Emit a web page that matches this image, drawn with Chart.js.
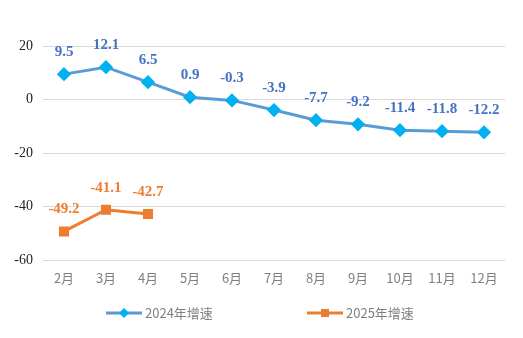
<!DOCTYPE html>
<html>
<head>
<meta charset="utf-8">
<script src="https://cdn.jsdelivr.net/npm/chart.js@4"></script>
<style>
  html, body { margin: 0; padding: 0; background: #fff; }
  #wrap { width: 523px; height: 338px; }
</style>
</head>
<body>
<div id="wrap"><canvas id="chart" width="523" height="338"></canvas></div>
<script>
const months = ['2月', '3月', '4月', '5月', '6月', '7月', '8月', '9月', '10月', '11月', '12月'];
const growth2024 = [9.5, 12.1, 6.5, 0.9, -0.3, -3.9, -7.7, -9.2, -11.4, -11.8, -12.2];
const growth2025 = [-49.2, -41.1, -42.7, null, null, null, null, null, null, null, null];
const seriesNames = ['2024年增速', '2025年增速'];

const labelColors = ['#4472C4', '#ED7D31'];

// value labels above each point
const valueLabels = {
    id: 'valueLabels',
    afterDatasetsDraw(chart) {
        const ctx = chart.ctx;
        ctx.save();
        ctx.font = 'bold 15px "Liberation Serif", serif';
        ctx.textAlign = 'center';
        ctx.textBaseline = 'middle';
        chart.data.datasets.forEach((ds, i) => {
            const meta = chart.getDatasetMeta(i);
            ctx.fillStyle = labelColors[i];
            meta.data.forEach((pt, j) => {
                const v = ds.data[j];
                if (v === null) return;
                ctx.fillText(v.toFixed(1), pt.x, pt.y - 22);
            });
        });
        ctx.restore();
    }
};

// legend with line + marker drawn under the axis
const lineLegend = {
    id: 'lineLegend',
    afterDraw(chart) {
        const ctx = chart.ctx;
        const y = 313;
        const starts = [106, 307];
        ctx.save();
        chart.data.datasets.forEach((ds, i) => {
            const x = starts[i];
            ctx.strokeStyle = ds.borderColor;
            ctx.lineWidth = 3;
            ctx.beginPath();
            ctx.moveTo(x, y);
            ctx.lineTo(x + 36, y);
            ctx.stroke();
            ctx.fillStyle = ds.pointBackgroundColor;
            if (i === 0) {
                ctx.beginPath();
                ctx.moveTo(x + 18, y - 5);
                ctx.lineTo(x + 23, y);
                ctx.lineTo(x + 18, y + 5);
                ctx.lineTo(x + 13, y);
                ctx.closePath();
                ctx.fill();
            } else {
                ctx.fillRect(x + 14, y - 4, 8, 8);
            }
            ctx.fillStyle = '#7f7f7f';
            ctx.font = '13px "Noto Sans CJK SC", sans-serif';
            ctx.textAlign = 'left';
            ctx.textBaseline = 'middle';
            ctx.fillText(seriesNames[i], x + 39, y);
        });
        ctx.restore();
    }
};

new Chart(document.getElementById('chart'), {
    type: 'line',
    data: {
        labels: months,
        datasets: [{
            label: seriesNames[0],
            data: growth2024,
            borderColor: '#5B9BD5',
            borderWidth: 3,
            pointStyle: 'rectRot',
            pointRadius: 5,
            pointBackgroundColor: '#00B0F0',
            pointBorderColor: '#00B0F0',
            tension: 0
        }, {
            label: seriesNames[1],
            data: growth2025,
            borderColor: '#ED7D31',
            borderWidth: 3,
            pointStyle: 'rect',
            pointRadius: 5,
            pointBackgroundColor: '#ED7D31',
            pointBorderColor: '#ED7D31',
            tension: 0
        }]
    },
    options: {
        responsive: false,
        animation: false,
        layout: { padding: { top: 46, right: 18, bottom: 50, left: 8 } },
        plugins: {
            legend: { display: false },
            tooltip: { enabled: false }
        },
        scales: {
            x: {
                offset: true,
                grid: { display: false },
                border: { display: false },
                ticks: {
                    color: '#7f7f7f',
                    font: { family: '"Noto Sans CJK SC", sans-serif', size: 13 },
                    padding: 2
                }
            },
            y: {
                min: -60,
                max: 20,
                afterFit(scale) { scale.width = 35; },
                ticks: {
                    stepSize: 20,
                    color: '#222',
                    font: { family: '"Liberation Serif", serif', size: 14 },
                    padding: 10
                },
                grid: { color: '#d9d9d9', drawTicks: false },
                border: { display: false }
            }
        }
    },
    plugins: [valueLabels, lineLegend]
});
</script>
</body>
</html>
